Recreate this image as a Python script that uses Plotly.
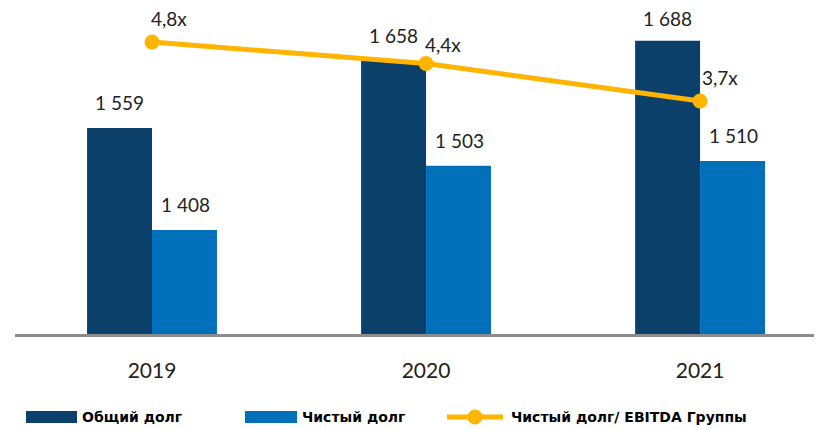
import plotly.graph_objects as go

years = ["2019", "2020", "2021"]
total_debt = [1559, 1658, 1688]
net_debt = [1408, 1503, 1510]
ratio = [4.8, 4.4, 3.7]
ratio_labels = ["4,8x", "4,4x", "3,7x"]
series_names = ["Общий долг", "Чистый долг", "Чистый долг/ EBITDA Группы"]

DARK = "#0B406B"
LIGHT = "#0070BA"
YEL = "#FFB400"
TXT = "#222222"
LABEL_FONT = "Lato, 'Open Sans', sans-serif"
LEG_FONT = "'DejaVu Sans', sans-serif"

def fmt(v):
    return f"{v:,}".replace(",", " ")

# page body has an 8px margin, so the figure is drawn at (8, 8)
OFF = 8
W, H = 822 - OFF, 430 - OFF
L, R, T, B = 15 - OFF, 0, 10 - OFF, 96
pw = W - L - R
ph = H - T - B

def px_x(px):
    return (px - OFF - L) / pw

def px_y(py):
    return (H - B - (py - OFF)) / ph

xs = list(range(len(years)))

fig = go.Figure()
fig.add_trace(go.Bar(x=years, y=total_debt, name=series_names[0], marker_color=DARK,
                     marker_line_width=0, showlegend=False))
fig.add_trace(go.Bar(x=years, y=net_debt, name=series_names[1], marker_color=LIGHT,
                     marker_line_width=0, showlegend=False))
fig.add_trace(go.Scatter(x=years, y=ratio, name=series_names[2], yaxis="y2",
                         mode="lines+markers", line=dict(color=YEL, width=5),
                         marker=dict(size=15, color=YEL), showlegend=False))

ann = []
total_yshift = [12, 12, 9]
for i in xs:
    ann.append(dict(x=i, y=total_debt[i], xref="x", yref="y", text=fmt(total_debt[i]),
                    showarrow=False, xshift=-33, yanchor="bottom", yshift=total_yshift[i],
                    font=dict(size=19, color=TXT, family=LABEL_FONT)))
    ann.append(dict(x=i, y=net_debt[i], xref="x", yref="y", text=fmt(net_debt[i]),
                    showarrow=False, xshift=33, yanchor="bottom", yshift=12,
                    font=dict(size=19, color=TXT, family=LABEL_FONT)))
shifts = [(17, 24), (17, 19), (20, 24)]
for i in xs:
    ann.append(dict(x=i, y=ratio[i], xref="x", yref="y2", text=ratio_labels[i],
                    showarrow=False, xshift=shifts[i][0], yshift=shifts[i][1],
                    font=dict(size=19, color=TXT, family=LABEL_FONT)))

# custom legend
shapes = []
leg_y = 417
shapes.append(dict(type="rect", xref="paper", yref="paper", x0=px_x(26), x1=px_x(77),
                   y0=px_y(423), y1=px_y(411), fillcolor=DARK, line_width=0))
shapes.append(dict(type="rect", xref="paper", yref="paper", x0=px_x(245), x1=px_x(297),
                   y0=px_y(423), y1=px_y(411), fillcolor=LIGHT, line_width=0))
shapes.append(dict(type="line", xref="paper", yref="paper", x0=px_x(447), x1=px_x(503),
                   y0=px_y(leg_y), y1=px_y(leg_y), line=dict(color=YEL, width=5)))
shapes.append(dict(type="circle", xref="paper", yref="paper", x0=px_x(467.5), x1=px_x(482.5),
                   y0=px_y(leg_y + 7.5), y1=px_y(leg_y - 7.5), fillcolor=YEL, line_width=0))
for xpx, name in zip([80, 300, 509], series_names):
    ann.append(dict(x=px_x(xpx), y=px_y(leg_y), xref="paper", yref="paper", text="<b>" + name + "</b>",
                    showarrow=False, xanchor="left", yanchor="middle",
                    font=dict(size=14, color="#000000", family=LEG_FONT)))

fig.update_layout(
    width=W, height=H,
    margin=dict(l=L, r=R, t=T, b=B),
    paper_bgcolor="white", plot_bgcolor="white",
    barmode="group", bargap=0.526, bargroupgap=0,
    xaxis=dict(type="category", range=[-0.5, 2.445], showgrid=False, showline=True,
               linecolor="#8C8C8C", linewidth=3, ticks="", ticklabelstandoff=16,
               tickfont=dict(size=21, color=TXT, family=LABEL_FONT)),
    yaxis=dict(range=[1254, 1254 + 324 * 1.48], visible=False, showgrid=False),
    yaxis2=dict(range=[-0.643, 5.397], overlaying="y", visible=False, showgrid=False),
    annotations=ann, shapes=shapes,
)

fig.write_html("out.html")
